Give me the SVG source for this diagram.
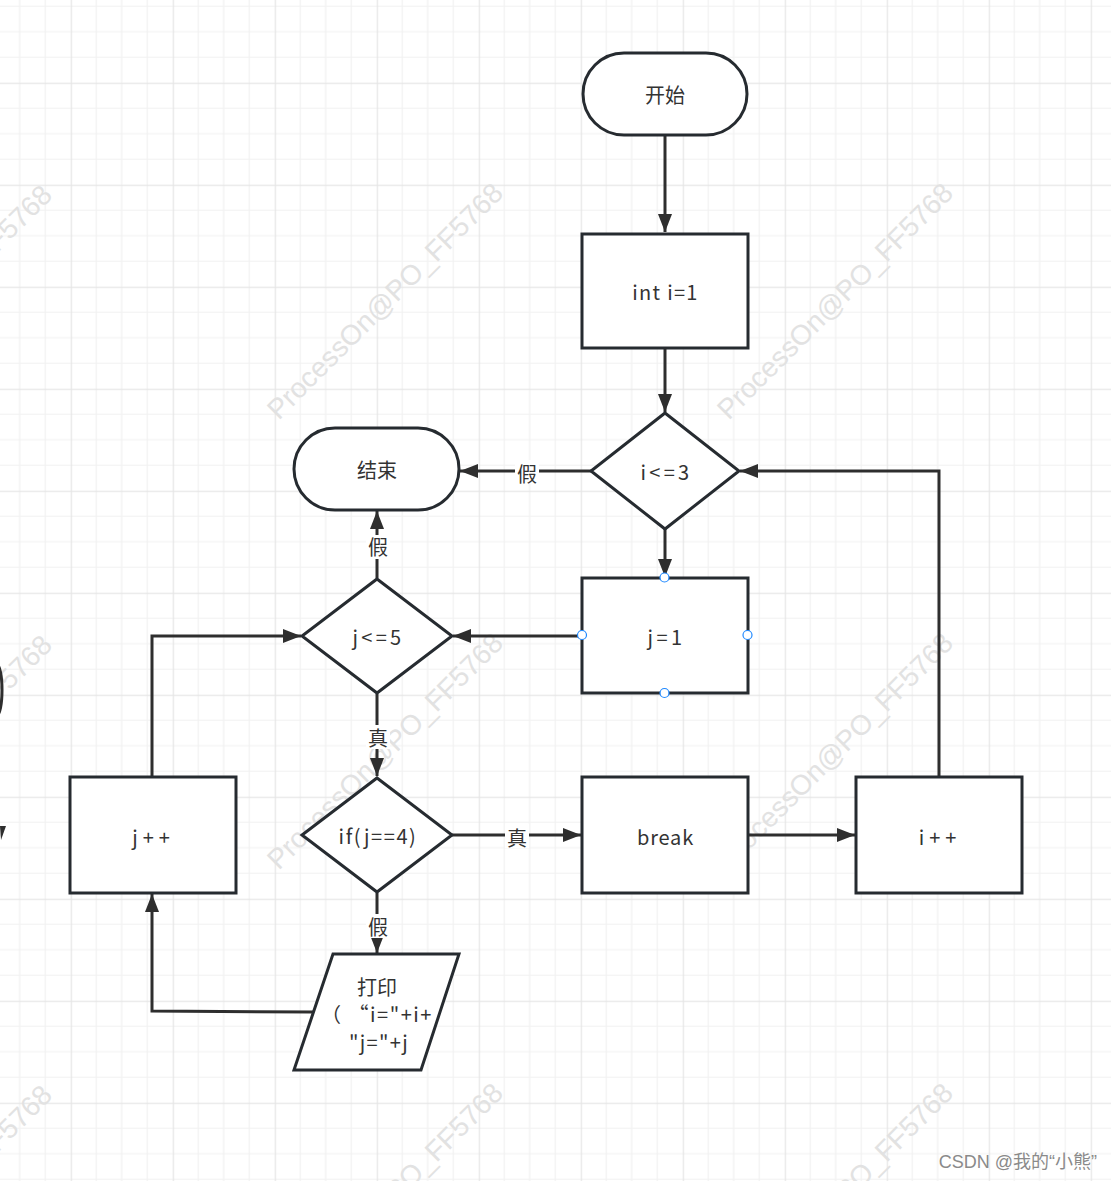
<svg xmlns="http://www.w3.org/2000/svg" width="1111" height="1181" viewBox="0 0 1111 1181">
<style>
.shape{fill:#ffffff;stroke:#262b30;stroke-width:3}
.conn{fill:none;stroke:#2e2e2e;stroke-width:3}
.t{font-family:"Noto Sans CJK SC","Liberation Sans",sans-serif;font-size:20px;fill:#333333;text-anchor:middle;dominant-baseline:central}
.lbl{font-family:"Noto Sans CJK SC","Liberation Sans",sans-serif;font-size:20px;fill:#333333;text-anchor:middle;dominant-baseline:central}
.wm{font-family:"Liberation Sans","Noto Sans",sans-serif;font-size:28px;fill:#e2e2e2;text-anchor:middle;dominant-baseline:central}
.pt{fill:#ffffff;stroke:#1e88ff;stroke-width:1.2}
</style>
<defs>
<pattern id="grid" width="102" height="102" x="70.7" y="82.7" patternUnits="userSpaceOnUse">
<path d="M25.5 0V102M51 0V102M76.5 0V102M0 25.5H102M0 51H102M0 76.5H102" stroke="#f1f1f1" stroke-width="1.2" fill="none"/>
<path d="M0.5 0V102M0 0.5H102" stroke="#e6e6e6" stroke-width="1.5" fill="none"/>
</pattern>
<marker id="arr" markerUnits="userSpaceOnUse" markerWidth="20" markerHeight="14" refX="18" refY="7" orient="auto">
<path d="M0,0 L18,7 L0,14 z" fill="#2e2e2e"/>
</marker>
</defs>
<rect width="1111" height="1181" fill="#ffffff"/>
<rect width="1111" height="1181" fill="url(#grid)"/>
<g id="watermarks">
<text class="wm" transform="translate(-66,303) rotate(-45)">ProcessOn@PO_FF5768</text>
<text class="wm" transform="translate(385,301) rotate(-45)">ProcessOn@PO_FF5768</text>
<text class="wm" transform="translate(835,301) rotate(-45)">ProcessOn@PO_FF5768</text>
<text class="wm" transform="translate(-66,753) rotate(-45)">ProcessOn@PO_FF5768</text>
<text class="wm" transform="translate(385,751) rotate(-45)">ProcessOn@PO_FF5768</text>
<text class="wm" transform="translate(835,751) rotate(-45)">ProcessOn@PO_FF5768</text>
<text class="wm" transform="translate(-66,1203) rotate(-45)">ProcessOn@PO_FF5768</text>
<text class="wm" transform="translate(385,1201) rotate(-45)">ProcessOn@PO_FF5768</text>
<text class="wm" transform="translate(835,1201) rotate(-45)">ProcessOn@PO_FF5768</text>
</g>
<g id="edge-fragments">
<path d="M-3,665 A5,25 0 0 1 -3,715" class="conn"/>
<path d="M0,826 L6,826 L1,840 z" fill="#2e2e2e"/>
</g>
<g id="connectors">
<line class="conn" x1="665" y1="136" x2="665" y2="232" marker-end="url(#arr)"/>
<line class="conn" x1="665" y1="349" x2="665" y2="412" marker-end="url(#arr)"/>
<line class="conn" x1="665" y1="529" x2="665" y2="577" marker-end="url(#arr)"/>
<line class="conn" x1="591" y1="471" x2="460" y2="471" marker-end="url(#arr)"/>
<line class="conn" x1="582" y1="636" x2="453" y2="636" marker-end="url(#arr)"/>
<line class="conn" x1="377" y1="578" x2="377" y2="511" marker-end="url(#arr)"/>
<line class="conn" x1="377" y1="694" x2="377" y2="776" marker-end="url(#arr)"/>
<line class="conn" x1="452" y1="835" x2="581" y2="835" marker-end="url(#arr)"/>
<line class="conn" x1="748" y1="835" x2="855" y2="835" marker-end="url(#arr)"/>
<polyline class="conn" points="939,777 939,471 740,471" marker-end="url(#arr)"/>
<line class="conn" x1="377" y1="893" x2="377" y2="953" marker-end="url(#arr)"/>
<polyline class="conn" points="313,1012 152,1011 152,894" marker-end="url(#arr)"/>
<polyline class="conn" points="152,777 152,636 301,636" marker-end="url(#arr)"/>
<g id="labels">
<rect x="515" y="460" width="24" height="24" fill="#ffffff"/>
<text class="lbl" x="527" y="473">假</text>
<rect x="366" y="535" width="24" height="24" fill="#ffffff"/>
<text class="lbl" x="378" y="546">假</text>
<rect x="366" y="725" width="24" height="24" fill="#ffffff"/>
<text class="lbl" x="378" y="737">真</text>
<rect x="505" y="824" width="24" height="24" fill="#ffffff"/>
<text class="lbl" x="517" y="837">真</text>
<rect x="366" y="914" width="24" height="24" fill="#ffffff"/>
<text class="lbl" x="378" y="926">假</text>
</g>
</g>
<g id="start">
<rect class="shape" x="583" y="53" width="164" height="82" rx="41" ry="41"/>
<text class="t" x="665" y="94">开始</text>
</g>
<g id="init-i">
<rect class="shape" x="582" y="234" width="166" height="114"/>
<text class="t" x="665.5" y="291" letter-spacing="1.3">int i=1</text>
</g>
<g id="cond-i">
<polygon class="shape" points="665,413 739,471 665,529 591,471"/>
<text class="t" x="666.5" y="471" letter-spacing="3.3">i&lt;=3</text>
</g>
<g id="end">
<rect class="shape" x="294" y="428" width="165" height="82" rx="41" ry="41"/>
<text class="t" x="377" y="469">结束</text>
</g>
<g id="init-j">
<rect class="shape" x="582" y="578" width="166" height="115"/>
<text class="t" x="666.5" y="636" letter-spacing="3.5">j=1</text>
<circle class="pt" cx="664.5" cy="577.5" r="4.5"/>
<circle class="pt" cx="582" cy="635" r="4.5"/>
<circle class="pt" cx="747.5" cy="635" r="4.5"/>
<circle class="pt" cx="664.5" cy="693" r="4.5"/>
</g>
<g id="cond-j">
<polygon class="shape" points="377,579 452,636 377,693 302,636"/>
<text class="t" x="378.5" y="636" letter-spacing="3.3">j&lt;=5</text>
</g>
<g id="j-inc">
<rect class="shape" x="70" y="777" width="166" height="116"/>
<text class="t" x="153.5" y="836" letter-spacing="5">j++</text>
</g>
<g id="cond-if">
<polygon class="shape" points="377,778 452,835 377,892 302,835"/>
<text class="t" x="378" y="835" letter-spacing="1.6">if(j==4)</text>
</g>
<g id="break">
<rect class="shape" x="582" y="777" width="166" height="116"/>
<text class="t" x="665.5" y="836" letter-spacing="0.8">break</text>
</g>
<g id="i-inc">
<rect class="shape" x="856" y="777" width="166" height="116"/>
<text class="t" x="940" y="836" letter-spacing="5">i++</text>
</g>
<g id="print">
<polygon class="shape" points="333,954 459,954 421,1070 294,1070"/>
<text class="t" x="377" y="986">打印</text>
<text class="t" x="377" y="1013" letter-spacing="1.5">（ “i="+i+</text>
<text class="t" x="379" y="1041" letter-spacing="1.3">"j="+j</text>
</g>
<text x="1097" y="1162" font-family="'Liberation Sans','Noto Sans CJK SC',sans-serif" font-size="18" fill="#8a8a8a" text-anchor="end" dominant-baseline="central">CSDN @我的“小熊”</text>
</svg>
